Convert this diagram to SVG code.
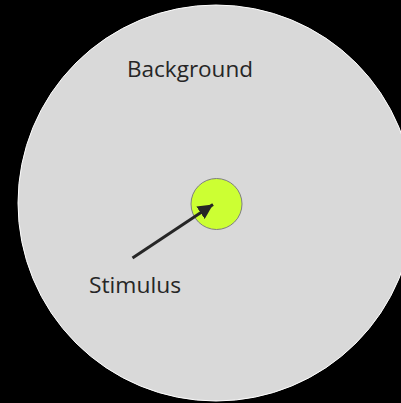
<svg xmlns="http://www.w3.org/2000/svg" width="401" height="403" viewBox="0 0 401 403">
  <style>
    .lbl { font-family: "Open Sans", "Liberation Sans", sans-serif; font-size: 22px; fill: #262626; }
  </style>
  <defs>
    <marker id="ah" viewBox="0 0 10 10" refX="10" refY="5" markerWidth="5" markerHeight="5" markerUnits="strokeWidth" orient="auto">
      <path d="M0,0 L10,5 L0,10 Z" fill="#262626"/>
    </marker>
  </defs>
  <rect x="0" y="0" width="401" height="403" fill="#000000"/>
  <g id="background">
    <circle cx="216" cy="203" r="198" fill="#d9d9d9" stroke="#ffffff" stroke-width="1"/>
    <text class="lbl" x="127" y="77" textLength="126" lengthAdjust="spacingAndGlyphs">Background</text>
  </g>
  <g id="stimulus">
    <circle cx="216.5" cy="204" r="25.5" fill="#ccff33" stroke="#7f7f7f" stroke-width="1"/>
  </g>
  <g id="stimulus-label">
    <text class="lbl" x="89" y="293" textLength="92" lengthAdjust="spacingAndGlyphs">Stimulus</text>
  </g>
  <g id="connectors">
    <line x1="132.5" y1="258" x2="213" y2="204.5" stroke="#262626" stroke-width="3" marker-end="url(#ah)"/>
  </g>
</svg>
